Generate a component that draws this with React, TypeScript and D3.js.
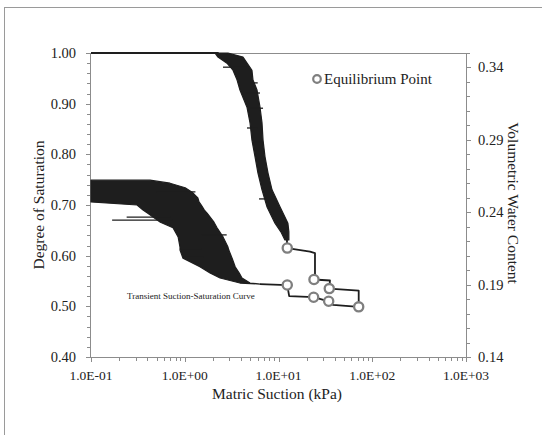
import React from "react";
import * as d3 from "d3";

// ---- Data ----
// Drying (main) curve: noisy band envelope, suction min/max (kPa) at each saturation
const dryingS = [1.0, 0.992, 0.98, 0.966, 0.947, 0.927, 0.893, 0.862, 0.828, 0.795, 0.763, 0.73, 0.696, 0.664, 0.647, 0.631];
const dryingMin = [2.1, 2.26, 2.82, 3.27, 3.61, 3.88, 4.61, 4.97, 5.21, 5.62, 6.04, 6.67, 7.55, 9.17, 10.6, 11.7];
const dryingMax = [2.89, 4.18, 4.62, 5.21, 5.34, 5.9, 6.35, 6.67, 6.84, 7.18, 7.73, 8.53, 10.4, 12.6, 12.9, 12.9];

// Transient suction-saturation curve envelope
const transS = [0.749, 0.743, 0.734, 0.724, 0.714, 0.706, 0.7, 0.69, 0.684, 0.666, 0.655, 0.637, 0.617, 0.611, 0.595, 0.578, 0.566, 0.556, 0.546, 0.544];
const transMax = [0.426, 0.696, 1.01, 1.22, 1.38, 1.42, 1.5, 1.62, 1.73, 2.05, 2.21, 2.56, 2.89, 2.95, 3.2, 3.45, 3.8, 4.08, 4.97, 6.35];
const transMin = [0.1, 0.1, 0.1, 0.1, 0.1, 0.1, 0.31, 0.359, 0.4, 0.55, 0.749, 0.85, 0.89, 0.89, 0.958, 1.45, 1.86, 2.38, 3.88, 6.35];

// Horizontal noise spikes [saturation, suction from, suction to]
const spikeS = [0.67, 0.676, 0.613, 0.597, 0.726, 0.641, 0.712, 0.941, 0.921, 0.891, 0.852, 0.972, 0.824];
const spikeFrom = [0.168, 0.24, 0.89, 0.958, 0.5, 1.5, 6.2, 5.0, 4.5, 5.0, 4.61, 2.56, 5.5];
const spikeTo = [0.749, 0.7, 1.5, 1.6, 1.3, 2.8, 7.4, 6.0, 6.35, 6.84, 6.0, 4.6, 6.84];

// Saturated plateau at top
const topSuction = [0.1, 2.3];
const topS = [1.0, 1.0];

// Thin path through equilibrium steps (drying then wetting)
const pathSuction = [12.3, 12.4, 21.7, 24.5, 24.5, 23.9, 35.4, 34.8, 71.7, 71.7, 38.1, 34.3, 23.7, 13.0, 12.4, 6.35];
const pathS = [0.631, 0.615, 0.608, 0.605, 0.553, 0.553, 0.551, 0.535, 0.531, 0.499, 0.503, 0.51, 0.518, 0.52, 0.542, 0.544];

// Equilibrium points
const eqSuction = [12.4, 23.9, 34.8, 12.4, 23.7, 34.3, 71.7];
const eqS = [0.615, 0.553, 0.535, 0.542, 0.518, 0.51, 0.499];

// Axis ticks
const xMajor = [0.1, 1, 10, 100, 1000];
const xLabels = ["1.0E-01", "1.0E+00", "1.0E+01", "1.0E+02", "1.0E+03"];
const yMajor = [0.4, 0.5, 0.6, 0.7, 0.8, 0.9, 1.0];
const yRMajor = [0.14, 0.19, 0.24, 0.29, 0.34];

const FONT = "'Liberation Serif', 'Times New Roman', serif";
const INK = "#1e1e1e";
const AXIS = "#8c8c8c";
const TEXT = "#222";

export default function App() {
  const left = 91, right = 466, top = 53, bottom = 357;
  const x = d3.scaleLog().domain([0.1, 1000]).range([left, right]);
  const y = d3.scaleLinear().domain([0.4, 1.0]).range([bottom, top]);
  const yR = d3.scaleLinear().domain([0.14, 0.35]).range([bottom, top]);

  const xMinor: number[] = [];
  for (let e = -1; e < 3; e++) for (let k = 2; k <= 9; k++) xMinor.push(k * Math.pow(10, e));
  const yMinor = d3.range(0, 31).map((i) => 0.4 + i * 0.02);
  const yRMinor = d3.range(0, 22).map((i) => 0.14 + i * 0.01);

  const dryArea = d3
    .area<number>()
    .y((i) => y(dryingS[i]))
    .x0((i) => x(dryingMin[i]))
    .x1((i) => x(dryingMax[i]))(d3.range(dryingS.length));
  const transArea = d3
    .area<number>()
    .y((i) => y(transS[i]))
    .x0((i) => x(transMin[i]))
    .x1((i) => x(transMax[i]))(d3.range(transS.length));
  const line = d3
    .line<number>()
    .x((i) => x(pathSuction[i]))
    .y((i) => y(pathS[i]))(d3.range(pathS.length));
  const topLine = d3
    .line<number>()
    .x((i) => x(topSuction[i]))
    .y((i) => y(topS[i]))(d3.range(topS.length));

  return (
    <svg
      width={542}
      height={435}
      style={{ position: "absolute", left: 0, top: 0, background: "#fff" }}
      fontFamily={FONT}
    >
      <rect x={4.5} y={7.5} width={700} height={700} fill="none" stroke="#9a9a9a" strokeWidth={1} />

      {/* plot frame */}
      <line x1={left} x2={right} y1={top + 0.5} y2={top + 0.5} stroke={AXIS} />
      <line x1={right + 0.5} x2={right + 0.5} y1={top} y2={bottom} stroke={AXIS} />
      <line x1={left - 0.5} x2={left - 0.5} y1={top} y2={bottom} stroke={AXIS} />
      <line x1={left} x2={right} y1={bottom + 0.5} y2={bottom + 0.5} stroke={AXIS} />

      {/* x ticks */}
      {xMinor.map((v, i) => (
        <line key={"xm" + i} x1={Math.round(x(v)) + 0.5} x2={Math.round(x(v)) + 0.5} y1={bottom} y2={bottom + 4} stroke={AXIS} />
      ))}
      {xMajor.map((v, i) => (
        <g key={"xM" + i}>
          <line x1={Math.round(x(v)) + 0.5} x2={Math.round(x(v)) + 0.5} y1={bottom} y2={bottom + 5} stroke={AXIS} />
          <text x={x(v)} y={380} textAnchor="middle" fontSize={13.5} fill={TEXT}>
            {xLabels[i]}
          </text>
        </g>
      ))}

      {/* left ticks */}
      {yMinor.map((v, i) => (
        <line key={"ym" + i} x1={left - 4} x2={left} y1={Math.round(y(v)) + 0.5} y2={Math.round(y(v)) + 0.5} stroke={AXIS} />
      ))}
      {yMajor.map((v, i) => (
        <g key={"yM" + i}>
          <line x1={left - 5} x2={left} y1={Math.round(y(v)) + 0.5} y2={Math.round(y(v)) + 0.5} stroke={AXIS} />
          <text x={76} y={y(v) + 5} textAnchor="end" fontSize={14.5} fill={TEXT}>
            {v.toFixed(2)}
          </text>
        </g>
      ))}

      {/* right ticks */}
      {yRMinor.map((v, i) => (
        <line key={"rm" + i} x1={right} x2={right + 4} y1={Math.round(yR(v)) + 0.5} y2={Math.round(yR(v)) + 0.5} stroke={AXIS} />
      ))}
      {yRMajor.map((v, i) => (
        <g key={"rM" + i}>
          <line x1={right} x2={right + 5} y1={Math.round(yR(v)) + 0.5} y2={Math.round(yR(v)) + 0.5} stroke={AXIS} />
          <text x={478} y={yR(v) + 5} textAnchor="start" fontSize={14.5} fill={TEXT}>
            {v.toFixed(2)}
          </text>
        </g>
      ))}

      {/* axis titles */}
      <text x={277} y={399} textAnchor="middle" fontSize={15.5} fill={TEXT}>
        Matric Suction (kPa)
      </text>
      <text transform={`translate(44,${(top + bottom) / 2}) rotate(-90)`} textAnchor="middle" fontSize={15.5} fill={TEXT}>
        Degree of Saturation
      </text>
      <text transform={`translate(508,${(top + bottom) / 2 - 2}) rotate(90)`} textAnchor="middle" fontSize={15.5} fill={TEXT}>
        Volumetric Water Content
      </text>

      {/* curves */}
      <path d={topLine || ""} fill="none" stroke={INK} strokeWidth={2} />
      <path d={dryArea || ""} fill={INK} stroke={INK} strokeWidth={1.2} strokeLinejoin="round" />
      <path d={transArea || ""} fill={INK} stroke={INK} strokeWidth={1.2} strokeLinejoin="round" />
      {spikeS.map((s, i) => (
        <line key={"sp" + i} x1={x(spikeFrom[i])} x2={x(spikeTo[i])} y1={y(s)} y2={y(s)} stroke={INK} strokeWidth={1.3} />
      ))}
      <path d={line || ""} fill="none" stroke={INK} strokeWidth={1.8} strokeLinejoin="round" />

      {/* equilibrium points */}
      {eqS.map((s, i) => (
        <circle key={"eq" + i} cx={x(eqSuction[i])} cy={y(s)} r={4.6} fill="#fff" stroke="#7f7f7f" strokeWidth={2.3} />
      ))}

      {/* legend */}
      <circle cx={317} cy={79} r={3.8} fill="#fff" stroke="#7f7f7f" strokeWidth={2.2} />
      <text x={324} y={84} fontSize={15} fill={TEXT}>
        Equilibrium Point
      </text>

      <text x={127} y={299} fontSize={9} fill={TEXT}>
        Transient Suction-Saturation Curve
      </text>
    </svg>
  );
}
